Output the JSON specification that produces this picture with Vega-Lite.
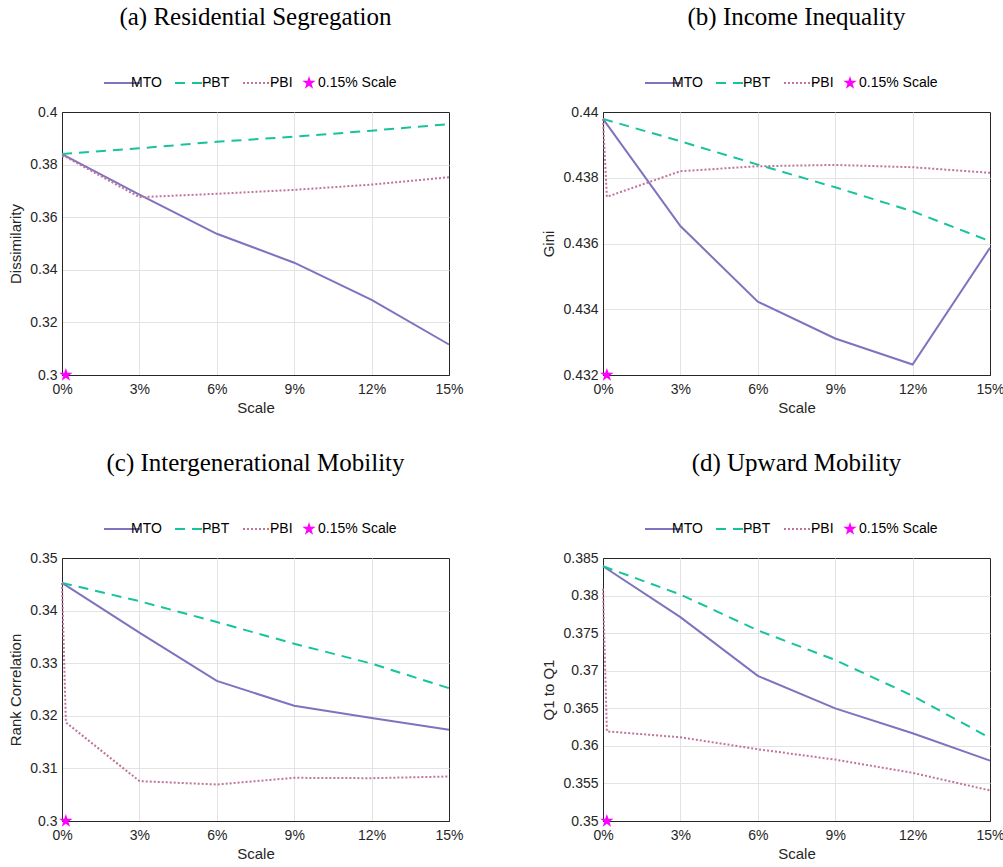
{
  "$schema": "https://vega.github.io/schema/vega-lite/v6.json",
  "padding": {"left": 8, "top": 4, "right": 5, "bottom": 3},
  "background": "white",
  "data": {"values": [
    {"panel": "a", "series": "MTO", "sx": 0, "val": 0.3840},
    {"panel": "a", "series": "MTO", "sx": 0.03, "val": 0.3686},
    {"panel": "a", "series": "MTO", "sx": 0.06, "val": 0.3537},
    {"panel": "a", "series": "MTO", "sx": 0.09, "val": 0.3427},
    {"panel": "a", "series": "MTO", "sx": 0.12, "val": 0.3286},
    {"panel": "a", "series": "MTO", "sx": 0.15, "val": 0.3116},
    {"panel": "a", "series": "PBT", "sx": 0, "val": 0.3840},
    {"panel": "a", "series": "PBT", "sx": 0.03, "val": 0.3862},
    {"panel": "a", "series": "PBT", "sx": 0.06, "val": 0.3887},
    {"panel": "a", "series": "PBT", "sx": 0.09, "val": 0.3906},
    {"panel": "a", "series": "PBT", "sx": 0.12, "val": 0.3929},
    {"panel": "a", "series": "PBT", "sx": 0.15, "val": 0.3954},
    {"panel": "a", "series": "PBI", "sx": 0, "val": 0.3832},
    {"panel": "a", "series": "PBI", "sx": 0.0015, "val": 0.3829},
    {"panel": "a", "series": "PBI", "sx": 0.03, "val": 0.3676},
    {"panel": "a", "series": "PBI", "sx": 0.06, "val": 0.3689},
    {"panel": "a", "series": "PBI", "sx": 0.09, "val": 0.3704},
    {"panel": "a", "series": "PBI", "sx": 0.12, "val": 0.3724},
    {"panel": "a", "series": "PBI", "sx": 0.15, "val": 0.3752},
    {"panel": "a", "series": "0.15% Scale", "sx": 0.0015, "val": 0.3},
    {"panel": "b", "series": "MTO", "sx": 0, "val": 0.43979},
    {"panel": "b", "series": "MTO", "sx": 0.03, "val": 0.43653},
    {"panel": "b", "series": "MTO", "sx": 0.06, "val": 0.43423},
    {"panel": "b", "series": "MTO", "sx": 0.09, "val": 0.43311},
    {"panel": "b", "series": "MTO", "sx": 0.12, "val": 0.43232},
    {"panel": "b", "series": "MTO", "sx": 0.15, "val": 0.43587},
    {"panel": "b", "series": "PBT", "sx": 0, "val": 0.43979},
    {"panel": "b", "series": "PBT", "sx": 0.03, "val": 0.43911},
    {"panel": "b", "series": "PBT", "sx": 0.06, "val": 0.4384},
    {"panel": "b", "series": "PBT", "sx": 0.09, "val": 0.43771},
    {"panel": "b", "series": "PBT", "sx": 0.12, "val": 0.43698},
    {"panel": "b", "series": "PBT", "sx": 0.15, "val": 0.43607},
    {"panel": "b", "series": "PBI", "sx": 0, "val": 0.43979},
    {"panel": "b", "series": "PBI", "sx": 0.0015, "val": 0.43742},
    {"panel": "b", "series": "PBI", "sx": 0.03, "val": 0.4382},
    {"panel": "b", "series": "PBI", "sx": 0.06, "val": 0.43835},
    {"panel": "b", "series": "PBI", "sx": 0.09, "val": 0.43839},
    {"panel": "b", "series": "PBI", "sx": 0.12, "val": 0.43832},
    {"panel": "b", "series": "PBI", "sx": 0.15, "val": 0.43815},
    {"panel": "b", "series": "0.15% Scale", "sx": 0.0015, "val": 0.432},
    {"panel": "c", "series": "MTO", "sx": 0, "val": 0.34527},
    {"panel": "c", "series": "MTO", "sx": 0.03, "val": 0.3358},
    {"panel": "c", "series": "MTO", "sx": 0.06, "val": 0.32664},
    {"panel": "c", "series": "MTO", "sx": 0.09, "val": 0.32191},
    {"panel": "c", "series": "MTO", "sx": 0.12, "val": 0.31957},
    {"panel": "c", "series": "MTO", "sx": 0.15, "val": 0.31736},
    {"panel": "c", "series": "PBT", "sx": 0, "val": 0.34527},
    {"panel": "c", "series": "PBT", "sx": 0.03, "val": 0.34179},
    {"panel": "c", "series": "PBT", "sx": 0.06, "val": 0.33782},
    {"panel": "c", "series": "PBT", "sx": 0.09, "val": 0.33371},
    {"panel": "c", "series": "PBT", "sx": 0.12, "val": 0.32992},
    {"panel": "c", "series": "PBT", "sx": 0.15, "val": 0.32525},
    {"panel": "c", "series": "PBI", "sx": 0, "val": 0.34527},
    {"panel": "c", "series": "PBI", "sx": 0.0015, "val": 0.31875},
    {"panel": "c", "series": "PBI", "sx": 0.03, "val": 0.30758},
    {"panel": "c", "series": "PBI", "sx": 0.06, "val": 0.30694},
    {"panel": "c", "series": "PBI", "sx": 0.09, "val": 0.30821},
    {"panel": "c", "series": "PBI", "sx": 0.12, "val": 0.30814},
    {"panel": "c", "series": "PBI", "sx": 0.15, "val": 0.30846},
    {"panel": "c", "series": "0.15% Scale", "sx": 0.0015, "val": 0.3},
    {"panel": "d", "series": "MTO", "sx": 0, "val": 0.3839},
    {"panel": "d", "series": "MTO", "sx": 0.03, "val": 0.37713},
    {"panel": "d", "series": "MTO", "sx": 0.06, "val": 0.36931},
    {"panel": "d", "series": "MTO", "sx": 0.09, "val": 0.36498},
    {"panel": "d", "series": "MTO", "sx": 0.12, "val": 0.36167},
    {"panel": "d", "series": "MTO", "sx": 0.15, "val": 0.35804},
    {"panel": "d", "series": "PBT", "sx": 0, "val": 0.3839},
    {"panel": "d", "series": "PBT", "sx": 0.03, "val": 0.38014},
    {"panel": "d", "series": "PBT", "sx": 0.06, "val": 0.37537},
    {"panel": "d", "series": "PBT", "sx": 0.09, "val": 0.37143},
    {"panel": "d", "series": "PBT", "sx": 0.12, "val": 0.36666},
    {"panel": "d", "series": "PBT", "sx": 0.15, "val": 0.36105},
    {"panel": "d", "series": "PBI", "sx": 0, "val": 0.3809},
    {"panel": "d", "series": "PBI", "sx": 0.0015, "val": 0.36193},
    {"panel": "d", "series": "PBI", "sx": 0.03, "val": 0.36114},
    {"panel": "d", "series": "PBI", "sx": 0.06, "val": 0.35955},
    {"panel": "d", "series": "PBI", "sx": 0.09, "val": 0.35817},
    {"panel": "d", "series": "PBI", "sx": 0.12, "val": 0.35641},
    {"panel": "d", "series": "PBI", "sx": 0.15, "val": 0.35407},
    {"panel": "d", "series": "0.15% Scale", "sx": 0.0015, "val": 0.35}
  ]},
  "columns": 2,
  "spacing": {"column": 77, "row": 34},
  "resolve": {
    "scale": {"x": "independent", "y": "independent", "color": "independent"},
    "legend": {"color": "independent"}
  },
  "concat": [
    {
      "width": 387, "height": 263,
      "view": {"stroke": "#262626", "strokeWidth": 1},
      "title": "(a) Residential Segregation",
      "transform": [{"filter": {"field": "panel", "equal": "a"}}],
      "layer": [
        {
          "transform": [{"filter": {"field": "series", "equal": "MTO"}}],
          "mark": {"type": "line", "strokeWidth": 2},
          "encoding": {
            "x": {"field": "sx", "type": "quantitative", "scale": {"domain": [0, 0.15], "nice": false}, "axis": {"title": "Scale", "values": [0, 0.03, 0.06, 0.09, 0.12, 0.15], "tickCount": 10, "format": ".0%", "labelOverlap": false, "gridColor": {"condition": {"test": "datum.value === 0 || datum.value === 0.15", "value": "transparent"}, "value": "#e3e3e3"}}},
            "y": {"field": "val", "type": "quantitative", "scale": {"domain": [0.3, 0.4], "nice": false, "zero": false}, "axis": {"title": "Dissimilarity", "values": [0.3, 0.32, 0.34, 0.36, 0.38, 0.4], "tickCount": 10, "format": ".2~f", "labelOverlap": false, "gridColor": {"condition": {"test": "datum.value === 0.3 || datum.value === 0.4", "value": "transparent"}, "value": "#e3e3e3"}}},
            "color": {"field": "series", "type": "nominal", "scale": {"domain": ["MTO", "PBT", "PBI", "0.15% Scale"], "range": ["#7f73c0", "#17c39b", "#c0749c", "#ff00ff"]},
              "legend": {"encode": {"symbols": {"update": {
                "shape": {"signal": "datum.value === '0.15% Scale' ? 'M0,-0.39L0.088,-0.12L0.371,-0.12L0.142,0.046L0.229,0.316L0,0.149L-0.229,0.316L-0.142,0.046L-0.371,-0.12L-0.088,-0.12Z' : 'stroke'"},
                "size": {"value": 1296},
                "strokeDash": {"signal": "datum.value === 'PBT' ? [10, 7] : datum.value === 'PBI' ? [2, 2] : [1, 0]"},
                "fill": {"signal": "datum.value === '0.15% Scale' ? '#ff00ff' : 'transparent'"},
                "stroke": {"signal": "datum.value === 'MTO' ? '#7f73c0' : datum.value === 'PBT' ? '#17c39b' : datum.value === 'PBI' ? '#c0749c' : '#ff00ff'"},
                "strokeWidth": {"signal": "datum.value === '0.15% Scale' ? 0 : 2"},
                "opacity": {"value": 1}}}}}}
          }
        },
        {
          "transform": [{"filter": {"field": "series", "equal": "PBT"}}],
          "mark": {"type": "line", "strokeWidth": 2, "strokeDash": [10, 7]},
          "encoding": {"x": {"field": "sx", "type": "quantitative"}, "y": {"field": "val", "type": "quantitative"}, "color": {"field": "series", "type": "nominal"}}
        },
        {
          "transform": [{"filter": {"field": "series", "equal": "PBI"}}],
          "mark": {"type": "line", "strokeWidth": 2, "strokeDash": [2, 2]},
          "encoding": {"x": {"field": "sx", "type": "quantitative"}, "y": {"field": "val", "type": "quantitative"}, "color": {"field": "series", "type": "nominal"}}
        },
        {
          "transform": [{"filter": {"field": "series", "equal": "0.15% Scale"}}],
          "mark": {"type": "point", "shape": "M0,-1L0.225,-0.309L0.951,-0.309L0.363,0.118L0.588,0.809L0,0.382L-0.588,0.809L-0.363,0.118L-0.951,-0.309L-0.225,-0.309Z", "filled": true, "size": 200, "opacity": 1, "clip": false},
          "encoding": {"x": {"field": "sx", "type": "quantitative"}, "y": {"field": "val", "type": "quantitative"}, "color": {"field": "series", "type": "nominal"}}
        }
      ]
    },
    {
      "width": 387, "height": 263,
      "view": {"stroke": "#262626", "strokeWidth": 1},
      "title": "(b) Income Inequality",
      "transform": [{"filter": {"field": "panel", "equal": "b"}}],
      "layer": [
        {
          "transform": [{"filter": {"field": "series", "equal": "MTO"}}],
          "mark": {"type": "line", "strokeWidth": 2},
          "encoding": {
            "x": {"field": "sx", "type": "quantitative", "scale": {"domain": [0, 0.15], "nice": false}, "axis": {"title": "Scale", "values": [0, 0.03, 0.06, 0.09, 0.12, 0.15], "tickCount": 10, "format": ".0%", "labelOverlap": false, "gridColor": {"condition": {"test": "datum.value === 0 || datum.value === 0.15", "value": "transparent"}, "value": "#e3e3e3"}}},
            "y": {"field": "val", "type": "quantitative", "scale": {"domain": [0.432, 0.44], "nice": false, "zero": false}, "axis": {"title": "Gini", "values": [0.432, 0.434, 0.436, 0.438, 0.44], "tickCount": 10, "format": ".3~f", "labelOverlap": false, "gridColor": {"condition": {"test": "datum.value === 0.432 || datum.value === 0.44", "value": "transparent"}, "value": "#e3e3e3"}}},
            "color": {"field": "series", "type": "nominal", "scale": {"domain": ["MTO", "PBT", "PBI", "0.15% Scale"], "range": ["#7f73c0", "#17c39b", "#c0749c", "#ff00ff"]},
              "legend": {"encode": {"symbols": {"update": {
                "shape": {"signal": "datum.value === '0.15% Scale' ? 'M0,-0.39L0.088,-0.12L0.371,-0.12L0.142,0.046L0.229,0.316L0,0.149L-0.229,0.316L-0.142,0.046L-0.371,-0.12L-0.088,-0.12Z' : 'stroke'"},
                "size": {"value": 1296},
                "strokeDash": {"signal": "datum.value === 'PBT' ? [10, 7] : datum.value === 'PBI' ? [2, 2] : [1, 0]"},
                "fill": {"signal": "datum.value === '0.15% Scale' ? '#ff00ff' : 'transparent'"},
                "stroke": {"signal": "datum.value === 'MTO' ? '#7f73c0' : datum.value === 'PBT' ? '#17c39b' : datum.value === 'PBI' ? '#c0749c' : '#ff00ff'"},
                "strokeWidth": {"signal": "datum.value === '0.15% Scale' ? 0 : 2"},
                "opacity": {"value": 1}}}}}}
          }
        },
        {
          "transform": [{"filter": {"field": "series", "equal": "PBT"}}],
          "mark": {"type": "line", "strokeWidth": 2, "strokeDash": [10, 7]},
          "encoding": {"x": {"field": "sx", "type": "quantitative"}, "y": {"field": "val", "type": "quantitative"}, "color": {"field": "series", "type": "nominal"}}
        },
        {
          "transform": [{"filter": {"field": "series", "equal": "PBI"}}],
          "mark": {"type": "line", "strokeWidth": 2, "strokeDash": [2, 2]},
          "encoding": {"x": {"field": "sx", "type": "quantitative"}, "y": {"field": "val", "type": "quantitative"}, "color": {"field": "series", "type": "nominal"}}
        },
        {
          "transform": [{"filter": {"field": "series", "equal": "0.15% Scale"}}],
          "mark": {"type": "point", "shape": "M0,-1L0.225,-0.309L0.951,-0.309L0.363,0.118L0.588,0.809L0,0.382L-0.588,0.809L-0.363,0.118L-0.951,-0.309L-0.225,-0.309Z", "filled": true, "size": 200, "opacity": 1, "clip": false},
          "encoding": {"x": {"field": "sx", "type": "quantitative"}, "y": {"field": "val", "type": "quantitative"}, "color": {"field": "series", "type": "nominal"}}
        }
      ]
    },
    {
      "width": 387, "height": 263,
      "view": {"stroke": "#262626", "strokeWidth": 1},
      "title": "(c) Intergenerational Mobility",
      "transform": [{"filter": {"field": "panel", "equal": "c"}}],
      "layer": [
        {
          "transform": [{"filter": {"field": "series", "equal": "MTO"}}],
          "mark": {"type": "line", "strokeWidth": 2},
          "encoding": {
            "x": {"field": "sx", "type": "quantitative", "scale": {"domain": [0, 0.15], "nice": false}, "axis": {"title": "Scale", "values": [0, 0.03, 0.06, 0.09, 0.12, 0.15], "tickCount": 10, "format": ".0%", "labelOverlap": false, "gridColor": {"condition": {"test": "datum.value === 0 || datum.value === 0.15", "value": "transparent"}, "value": "#e3e3e3"}}},
            "y": {"field": "val", "type": "quantitative", "scale": {"domain": [0.3, 0.35], "nice": false, "zero": false}, "axis": {"title": "Rank Correlation", "values": [0.3, 0.31, 0.32, 0.33, 0.34, 0.35], "tickCount": 10, "format": ".2~f", "labelOverlap": false, "gridColor": {"condition": {"test": "datum.value === 0.3 || datum.value === 0.35", "value": "transparent"}, "value": "#e3e3e3"}}},
            "color": {"field": "series", "type": "nominal", "scale": {"domain": ["MTO", "PBT", "PBI", "0.15% Scale"], "range": ["#7f73c0", "#17c39b", "#c0749c", "#ff00ff"]},
              "legend": {"encode": {"symbols": {"update": {
                "shape": {"signal": "datum.value === '0.15% Scale' ? 'M0,-0.39L0.088,-0.12L0.371,-0.12L0.142,0.046L0.229,0.316L0,0.149L-0.229,0.316L-0.142,0.046L-0.371,-0.12L-0.088,-0.12Z' : 'stroke'"},
                "size": {"value": 1296},
                "strokeDash": {"signal": "datum.value === 'PBT' ? [10, 7] : datum.value === 'PBI' ? [2, 2] : [1, 0]"},
                "fill": {"signal": "datum.value === '0.15% Scale' ? '#ff00ff' : 'transparent'"},
                "stroke": {"signal": "datum.value === 'MTO' ? '#7f73c0' : datum.value === 'PBT' ? '#17c39b' : datum.value === 'PBI' ? '#c0749c' : '#ff00ff'"},
                "strokeWidth": {"signal": "datum.value === '0.15% Scale' ? 0 : 2"},
                "opacity": {"value": 1}}}}}}
          }
        },
        {
          "transform": [{"filter": {"field": "series", "equal": "PBT"}}],
          "mark": {"type": "line", "strokeWidth": 2, "strokeDash": [10, 7]},
          "encoding": {"x": {"field": "sx", "type": "quantitative"}, "y": {"field": "val", "type": "quantitative"}, "color": {"field": "series", "type": "nominal"}}
        },
        {
          "transform": [{"filter": {"field": "series", "equal": "PBI"}}],
          "mark": {"type": "line", "strokeWidth": 2, "strokeDash": [2, 2]},
          "encoding": {"x": {"field": "sx", "type": "quantitative"}, "y": {"field": "val", "type": "quantitative"}, "color": {"field": "series", "type": "nominal"}}
        },
        {
          "transform": [{"filter": {"field": "series", "equal": "0.15% Scale"}}],
          "mark": {"type": "point", "shape": "M0,-1L0.225,-0.309L0.951,-0.309L0.363,0.118L0.588,0.809L0,0.382L-0.588,0.809L-0.363,0.118L-0.951,-0.309L-0.225,-0.309Z", "filled": true, "size": 200, "opacity": 1, "clip": false},
          "encoding": {"x": {"field": "sx", "type": "quantitative"}, "y": {"field": "val", "type": "quantitative"}, "color": {"field": "series", "type": "nominal"}}
        }
      ]
    },
    {
      "width": 387, "height": 263,
      "view": {"stroke": "#262626", "strokeWidth": 1},
      "title": "(d) Upward Mobility",
      "transform": [{"filter": {"field": "panel", "equal": "d"}}],
      "layer": [
        {
          "transform": [{"filter": {"field": "series", "equal": "MTO"}}],
          "mark": {"type": "line", "strokeWidth": 2},
          "encoding": {
            "x": {"field": "sx", "type": "quantitative", "scale": {"domain": [0, 0.15], "nice": false}, "axis": {"title": "Scale", "values": [0, 0.03, 0.06, 0.09, 0.12, 0.15], "tickCount": 10, "format": ".0%", "labelOverlap": false, "gridColor": {"condition": {"test": "datum.value === 0 || datum.value === 0.15", "value": "transparent"}, "value": "#e3e3e3"}}},
            "y": {"field": "val", "type": "quantitative", "scale": {"domain": [0.35, 0.385], "nice": false, "zero": false}, "axis": {"title": "Q1 to Q1", "values": [0.35, 0.355, 0.36, 0.365, 0.37, 0.375, 0.38, 0.385], "tickCount": 10, "format": ".3~f", "labelOverlap": false, "gridColor": {"condition": {"test": "datum.value === 0.35 || datum.value === 0.385", "value": "transparent"}, "value": "#e3e3e3"}}},
            "color": {"field": "series", "type": "nominal", "scale": {"domain": ["MTO", "PBT", "PBI", "0.15% Scale"], "range": ["#7f73c0", "#17c39b", "#c0749c", "#ff00ff"]},
              "legend": {"encode": {"symbols": {"update": {
                "shape": {"signal": "datum.value === '0.15% Scale' ? 'M0,-0.39L0.088,-0.12L0.371,-0.12L0.142,0.046L0.229,0.316L0,0.149L-0.229,0.316L-0.142,0.046L-0.371,-0.12L-0.088,-0.12Z' : 'stroke'"},
                "size": {"value": 1296},
                "strokeDash": {"signal": "datum.value === 'PBT' ? [10, 7] : datum.value === 'PBI' ? [2, 2] : [1, 0]"},
                "fill": {"signal": "datum.value === '0.15% Scale' ? '#ff00ff' : 'transparent'"},
                "stroke": {"signal": "datum.value === 'MTO' ? '#7f73c0' : datum.value === 'PBT' ? '#17c39b' : datum.value === 'PBI' ? '#c0749c' : '#ff00ff'"},
                "strokeWidth": {"signal": "datum.value === '0.15% Scale' ? 0 : 2"},
                "opacity": {"value": 1}}}}}}
          }
        },
        {
          "transform": [{"filter": {"field": "series", "equal": "PBT"}}],
          "mark": {"type": "line", "strokeWidth": 2, "strokeDash": [10, 7]},
          "encoding": {"x": {"field": "sx", "type": "quantitative"}, "y": {"field": "val", "type": "quantitative"}, "color": {"field": "series", "type": "nominal"}}
        },
        {
          "transform": [{"filter": {"field": "series", "equal": "PBI"}}],
          "mark": {"type": "line", "strokeWidth": 2, "strokeDash": [2, 2]},
          "encoding": {"x": {"field": "sx", "type": "quantitative"}, "y": {"field": "val", "type": "quantitative"}, "color": {"field": "series", "type": "nominal"}}
        },
        {
          "transform": [{"filter": {"field": "series", "equal": "0.15% Scale"}}],
          "mark": {"type": "point", "shape": "M0,-1L0.225,-0.309L0.951,-0.309L0.363,0.118L0.588,0.809L0,0.382L-0.588,0.809L-0.363,0.118L-0.951,-0.309L-0.225,-0.309Z", "filled": true, "size": 200, "opacity": 1, "clip": false},
          "encoding": {"x": {"field": "sx", "type": "quantitative"}, "y": {"field": "val", "type": "quantitative"}, "color": {"field": "series", "type": "nominal"}}
        }
      ]
    }
  ],
  "config": {
    "view": {"stroke": "#262626", "strokeWidth": 1},
    "title": {"font": "Liberation Serif", "fontSize": 25, "fontWeight": "normal", "color": "#000000", "anchor": "middle", "offset": 46},
    "axis": {
      "labelFont": "Liberation Sans", "labelFontSize": 14, "labelColor": "#262626",
      "titleFont": "Liberation Sans", "titleFontSize": 15, "titleFontWeight": "normal", "titleColor": "#262626",
      "grid": true, "gridWidth": 1,
      "domain": true, "domainColor": "#262626", "domainWidth": 1,
      "ticks": false, "labelFlush": false
    },
    "axisX": {"labelPadding": 7, "titlePadding": 4},
    "axisY": {"labelPadding": 5, "titlePadding": 6},
    "legend": {
      "orient": "top", "direction": "horizontal", "title": null,
      "labelFont": "Liberation Sans", "labelFontSize": 14, "labelColor": "#000000",
      "symbolType": "stroke", "symbolSize": 1296, "symbolStrokeWidth": 2,
      "labelOffset": 2, "columnPadding": 9, "offset": 22, "padding": 0,
      "layout": {"top": {"anchor": "middle"}}
    },
    "line": {"strokeCap": "butt"}
  }
}
